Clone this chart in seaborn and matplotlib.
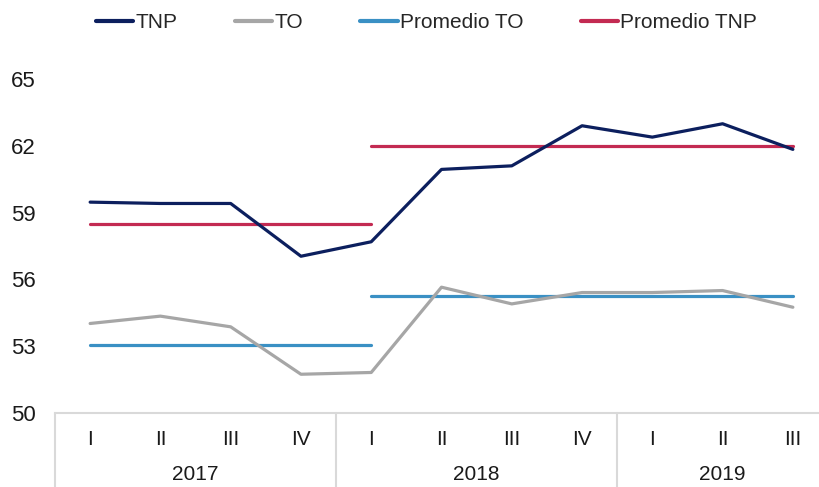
import matplotlib
matplotlib.use("Agg")
import matplotlib.pyplot as plt
import matplotlib.transforms as mtransforms
from matplotlib.lines import Line2D
import seaborn as sns
import numpy as np
import pandas as pd

# Datos
trimestres = ["I", "II", "III", "IV", "I", "II", "III", "IV", "I", "II", "III"]
anios = ["2017", "2018", "2019"]
trim_por_anio = [4, 4, 3]

tnp = [59.47, 59.41, 59.41, 57.04, 57.69, 60.94, 61.10, 62.90, 62.39, 62.99, 61.84]
to = [54.02, 54.35, 53.87, 51.74, 51.82, 55.65, 54.90, 55.41, 55.41, 55.50, 54.75]

# Promedios por tramo: (índice inicio, índice fin, valor)
prom_to = [(0, 4, 53.04), (4, 10, 55.25)]
prom_tnp = [(0, 4, 58.50), (4, 10, 62.00)]

colores = {
    "TNP": "#0c1f5e",
    "TO": "#a6a6a6",
    "Promedio TO": "#3a90c4",
    "Promedio TNP": "#c32a52",
}

sns.set_theme(style="white")
plt.rcParams["font.family"] = ["Liberation Sans", "DejaVu Sans"]

fig = plt.figure(figsize=(8.2, 4.87), dpi=100)
ax = fig.add_axes([55 / 820, 74 / 487, 773 / 820, 334 / 487])

x = np.arange(len(trimestres))
lw = 2.3

# Promedios primero (debajo de las series)
for ini, fin, val in prom_to:
    xs = x[ini:fin + 1]
    sns.lineplot(x=xs, y=[val] * len(xs), ax=ax, color=colores["Promedio TO"], lw=lw)
for ini, fin, val in prom_tnp:
    xs = x[ini:fin + 1]
    sns.lineplot(x=xs, y=[val] * len(xs), ax=ax, color=colores["Promedio TNP"], lw=lw)

df = pd.DataFrame({"x": x, "TNP": tnp, "TO": to})
sns.lineplot(data=df, x="x", y="TO", ax=ax, color=colores["TO"], lw=lw)
sns.lineplot(data=df, x="x", y="TNP", ax=ax, color=colores["TNP"], lw=lw)

ax.set_xlim(-0.5, len(trimestres) - 0.5)
ax.set_ylim(50, 65)
ax.set_yticks([50, 53, 56, 59, 62, 65])
ax.set_xticks(x)
ax.set_xticklabels(trimestres)
ax.set_xlabel("")
ax.set_ylabel("")
ax.tick_params(axis="y", length=0, pad=14, labelsize=16, colors="#1a1a1a")
ax.tick_params(axis="x", length=0, pad=12, labelsize=15, colors="#1a1a1a")

for s in ["top", "right", "left"]:
    ax.spines[s].set_visible(False)
ax.spines["bottom"].set_color("#d9d9d9")
ax.spines["bottom"].set_linewidth(1.5)

# Separadores de años y etiquetas
trans = mtransforms.blended_transform_factory(ax.transData, ax.transAxes)
bordes = np.concatenate([[0], np.cumsum(trim_por_anio)]) - 0.5
for b in bordes:
    ax.plot([b, b], [0, -0.23], transform=trans, color="#d9d9d9", lw=1.5, clip_on=False)
for i, anio in enumerate(anios):
    centro = (bordes[i] + bordes[i + 1]) / 2
    ax.text(centro, -0.185, anio, transform=trans, ha="center", va="center",
            fontsize=15, color="#1a1a1a")

handles = [Line2D([], [], color=colores[k], lw=3) for k in ["TNP", "TO", "Promedio TO", "Promedio TNP"]]
fig.legend(handles, ["TNP", "TO", "Promedio TO", "Promedio TNP"], loc="center",
           bbox_to_anchor=(0.52, 0.953), ncol=4, frameon=False, fontsize=15,
           handlelength=1.8, handletextpad=0.1, columnspacing=2.75)

fig.savefig("out.png", dpi=100)
